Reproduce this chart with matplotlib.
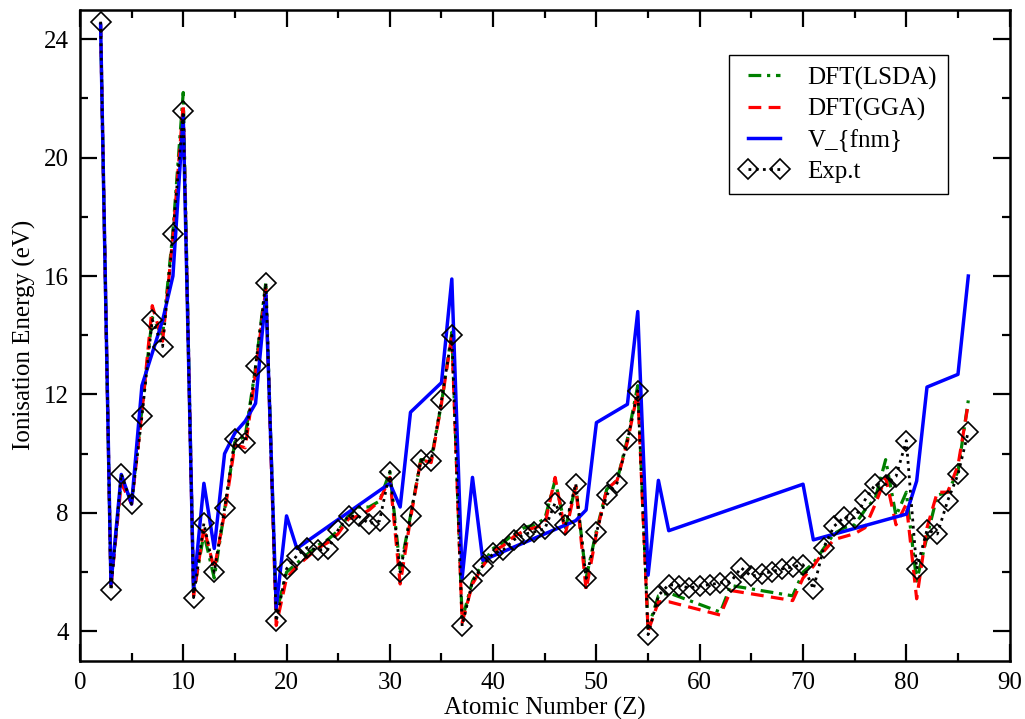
import matplotlib
matplotlib.use("Agg")
import matplotlib.pyplot as plt
from matplotlib.ticker import MultipleLocator

plt.rcParams['font.family'] = ['Liberation Serif', 'DejaVu Serif']

# experimental first ionisation energies (eV), Z = 2..86
z_exp = list(range(2, 87))
e_exp = [24.59, 5.39, 9.32, 8.30, 11.26, 14.53, 13.62, 17.42, 21.56,
         5.14, 7.65, 5.99, 8.15, 10.49, 10.36, 12.97, 15.76,
         4.34, 6.11, 6.56, 6.83, 6.75, 6.77, 7.43, 7.90, 7.88, 7.64, 7.73, 9.39,
         6.00, 7.90, 9.79, 9.75, 11.81, 14.00,
         4.18, 5.69, 6.22, 6.63, 6.76, 7.09, 7.28, 7.36, 7.46, 8.34, 7.58, 8.99,
         5.79, 7.34, 8.61, 9.01, 10.45, 12.13,
         3.89, 5.21, 5.58, 5.54, 5.47, 5.53, 5.58, 5.64, 5.67, 6.15, 5.86, 5.94,
         6.02, 6.11, 6.18, 6.25, 5.43, 6.83, 7.55, 7.86, 7.83, 8.44, 8.97, 8.96,
         9.23, 10.44, 6.11, 7.42, 7.29, 8.41, 9.30, 10.75]

# DFT curves, lanthanide stretch only has the kink points
z_dft = list(range(2, 58)) + [62, 63] + list(range(69, 87))
e_lsda = [24.5, 5.6, 9.1, 8.4, 11.5, 14.6, 14.0, 17.5, 22.2,
          5.3, 7.3, 5.8, 8.1, 10.4, 10.6, 12.9, 15.8,
          4.6, 6.0, 6.3, 6.6, 6.9, 7.1, 7.4, 7.9, 8.2, 8.2, 8.4, 9.4,
          6.1, 7.9, 9.8, 9.8, 11.7, 14.1,
          4.4, 5.7, 6.3, 6.8, 7.0, 7.3, 7.5, 7.6, 7.8, 9.1, 7.5, 8.9,
          5.8, 7.4, 8.8, 9.1, 10.5, 12.3,
          4.1, 5.2, 5.3, 4.65, 5.55, 5.2, 6.0, 6.3, 6.8, 7.3, 7.5, 7.6,
          8.1, 8.5, 9.8, 7.9, 8.7, 5.7, 7.2, 8.6, 8.7, 9.4, 11.8]
e_gga = [24.5, 5.5, 9.0, 8.3, 11.4, 15.0, 13.8, 17.3, 21.8,
         5.2, 7.5, 6.1, 8.0, 10.3, 10.2, 12.7, 15.6,
         4.2, 5.8, 6.2, 6.5, 6.8, 7.0, 7.3, 7.8, 7.9, 8.1, 8.4, 9.2,
         5.6, 7.8, 9.8, 9.7, 11.7, 14.0,
         4.3, 5.6, 6.2, 6.7, 6.9, 7.2, 7.4, 7.5, 7.6, 9.2, 7.3, 8.9,
         5.4, 7.3, 8.8, 9.1, 10.4, 12.1,
         4.0, 5.0, 5.0, 4.55, 5.38, 5.04, 5.8, 6.2, 6.7, 7.1, 7.2, 7.3,
         7.5, 8.3, 9.2, 7.6, 8.3, 5.1, 7.5, 8.7, 8.7, 9.6, 11.7]

z_fnm = [2, 3, 4, 5, 6, 7, 8, 9, 10, 11, 12, 13, 14, 15, 16, 17, 18, 19, 20, 21,
         30, 31, 32, 35, 36, 37, 38, 39, 48, 49, 50, 53, 54, 55, 56, 57,
         70, 71, 80, 81, 82, 85, 86]
e_fnm = [24.5, 5.6, 9.3, 8.3, 12.3, 13.4, 14.5, 16.0, 21.4, 5.4, 9.0, 6.8, 10.0,
         10.7, 11.1, 11.7, 15.4, 4.8, 7.9, 6.8,
         9.0, 8.2, 11.4, 12.4, 15.9, 5.8, 9.2, 6.4, 7.74, 8.1, 11.05, 11.67,
         14.8, 5.9, 9.1, 7.4,
         8.97, 7.09, 7.96, 9.08, 12.25, 12.68, 16.0]

fig = plt.figure(figsize=(10.25, 7.19), dpi=100)
ax = fig.add_axes([0.078, 0.0807, 0.907, 0.906])

ax.plot(z_dft, e_lsda, color='green', lw=2.3, ls=(0, (4, 1.8, 1, 1.8)), label='DFT(LSDA)')
ax.plot(z_dft, e_gga, color='red', lw=2.3, ls=(0, (4, 2.3)), label='DFT(GGA)')
ax.plot(z_fnm, e_fnm, color='blue', lw=2.5, label='V_{fnm}')
ax.plot(z_exp, e_exp, color='black', lw=2.0, ls=(0, (1, 1.6)),
        marker='D', ms=10.5, mfc='none', mec='black', mew=1.2, label='Exp.t')

ax.set_xlim(0, 90)
ax.set_ylim(3, 25)
ax.xaxis.set_major_locator(MultipleLocator(10))
ax.xaxis.set_minor_locator(MultipleLocator(5))
ax.yaxis.set_major_locator(MultipleLocator(4))
ax.yaxis.set_minor_locator(MultipleLocator(2))
ax.tick_params(which='both', direction='in', top=True, right=True, width=1.6,
               labelsize=18, pad=8)
ax.tick_params(which='major', length=12)
ax.tick_params(which='minor', length=6)
for s in ax.spines.values():
    s.set_linewidth(1.8)

ax.set_xlabel('Atomic Number (Z)', fontsize=18, labelpad=2)
ax.set_ylabel('Ionisation Energy (eV)', fontsize=18, labelpad=6)

leg = ax.legend(loc='upper right', bbox_to_anchor=(0.934, 0.93), borderaxespad=0,
                fontsize=18, numpoints=2, handlelength=1.9, handletextpad=0.8,
                labelspacing=0.33, borderpad=0.45, fancybox=False, framealpha=1,
                edgecolor='black')
leg.get_frame().set_linewidth(1.0)

fig.savefig('out.png', dpi=100)
